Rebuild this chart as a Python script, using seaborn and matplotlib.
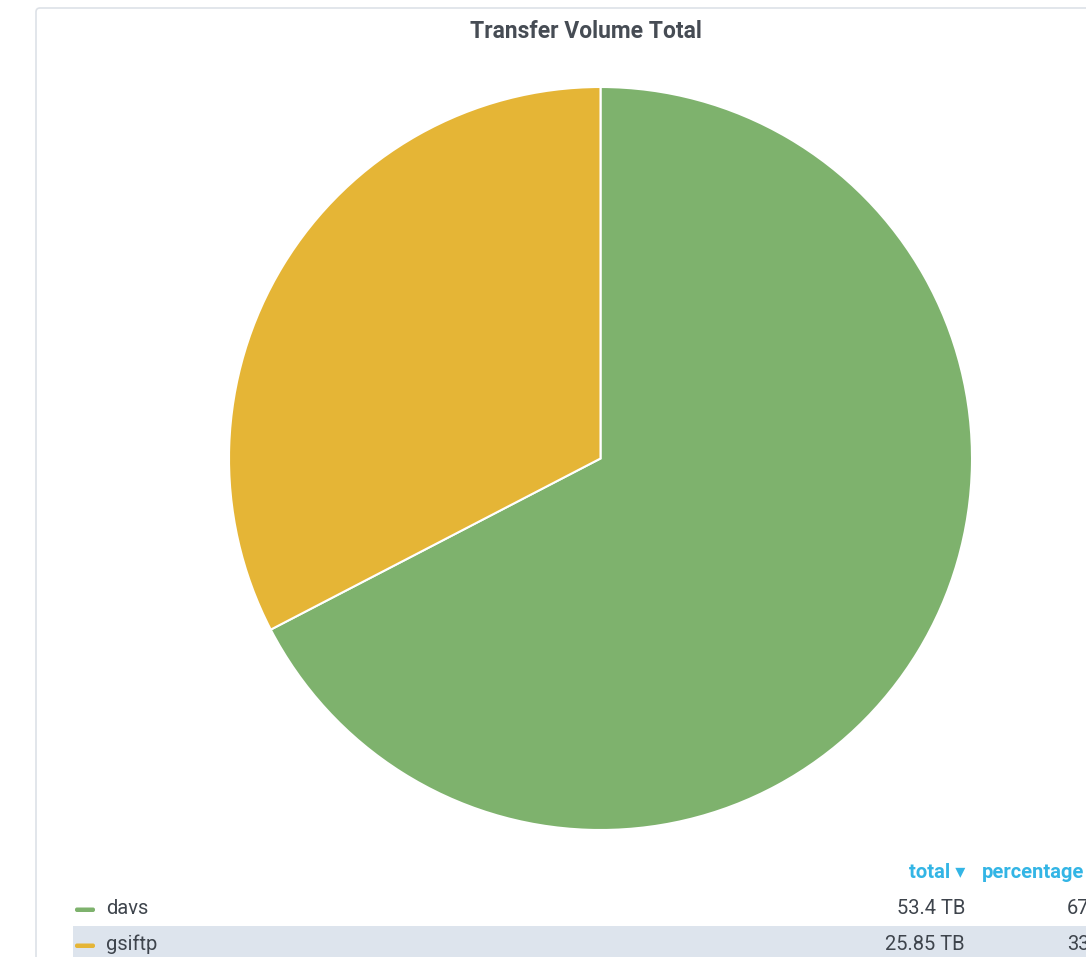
import matplotlib
matplotlib.use("Agg")
import matplotlib.pyplot as plt
from matplotlib.patches import FancyBboxPatch, Rectangle
import seaborn as sns

# Transfer volume per protocol (TB)
protocols = ["davs", "gsiftp"]
volumes_tb = [53.4, 25.85]
volume_labels = ["53.4 TB", "25.85 TB"]
colors = ["#7EB26D", "#E5B536"]
title = "Transfer Volume Total"

sns.set_theme(style="white")
plt.rcParams["font.family"] = ["Roboto", "DejaVu Sans"]

W, H = 1086, 957
fig = plt.figure(figsize=(W / 100, H / 100), dpi=100)
fig.patch.set_facecolor("white")

# Full-figure overlay in pixel coordinates for panel chrome and legend table
bg = fig.add_axes([0, 0, 1, 1])
bg.set_xlim(0, W)
bg.set_ylim(H, 0)
bg.axis("off")

panel = FancyBboxPatch((36, 8), 1200, 1100, boxstyle="round,pad=0,rounding_size=4",
                       linewidth=1.2, edgecolor="#DDE1E7", facecolor="white")
bg.add_patch(panel)

bg.text(586, 32, title, ha="center", va="center", fontsize=16.5,
        fontweight="bold", color="#464C54")

# Pie
cx, cy, r = 600.5, 458.5, 371.5
pie_ax = fig.add_axes([(cx - r) / W, (H - cy - r) / H, 2 * r / W, 2 * r / H])
pie_ax.pie(volumes_tb, colors=colors, startangle=90, counterclock=False,
           wedgeprops=dict(linewidth=1.5, edgecolor="white"))
pie_ax.set_xlim(-1, 1)
pie_ax.set_ylim(-1, 1)
pie_ax.set_aspect("equal")
pie_ax.axis("off")

# Legend table
header_color = "#33B5E5"
text_color = "#3E444C"
fs = 14.5
total = sum(volumes_tb)
bg.text(965, 872, "total \u25BE", ha="right", va="center", fontsize=fs,
        fontweight="bold", color=header_color)
bg.text(982, 872, "percentage", ha="left", va="center", fontsize=fs,
        fontweight="bold", color=header_color)

row_y = [908, 944]
bg.add_patch(Rectangle((73, 926), 1100, 40, facecolor="#DDE4ED", edgecolor="none"))
for name, vol, lab, col, y in zip(protocols, volumes_tb, volume_labels, colors, row_y):
    bg.add_patch(FancyBboxPatch((75, y - 0.5), 20, 4.5, boxstyle="round,pad=0,rounding_size=2",
                                facecolor=col, edgecolor="none"))
    bg.text(106, y, name, ha="left", va="center", fontsize=fs, color=text_color)
    bg.text(965, y, lab, ha="right", va="center", fontsize=fs, color=text_color)
    bg.text(1067, y, f"{vol / total * 100:.0f}%", ha="left", va="center",
            fontsize=fs, color=text_color)

fig.savefig("out.png", dpi=100)
